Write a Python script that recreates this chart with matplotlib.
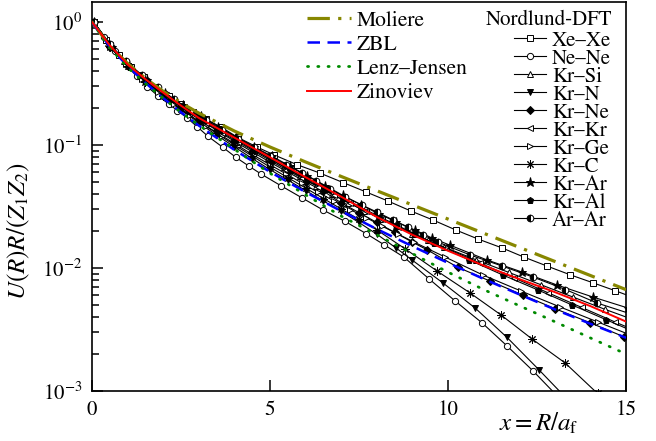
import numpy as np
import matplotlib
matplotlib.use('Agg')
import matplotlib.pyplot as plt
from matplotlib.ticker import LogLocator, NullLocator, FixedLocator, NullFormatter

plt.rcParams['font.family'] = ['STIXGeneral', 'DejaVu Serif']
plt.rcParams['mathtext.fontset'] = 'stix'

# ---------------- model screening functions -------------
model_x = [0, 0.5, 1, 1.5, 2, 2.5, 3, 4, 5, 6, 7, 8, 9, 10, 11, 12, 13, 14, 15]
moliere = [1.0, 0.6382, 0.4606, 0.3484, 0.2730, 0.2202, 0.1817, 0.1298, 0.0963, 0.07276,
           0.05549, 0.04248, 0.03256, 0.02499, 0.01918, 0.01473, 0.01131, 0.008688, 0.006672]
zbl = [1.0, 0.628, 0.4375, 0.3200, 0.2407, 0.1845, 0.1439, 0.0912, 0.06045, 0.04139,
       0.02903, 0.02073, 0.01502, 0.01101, 0.008156, 0.006104, 0.004609, 0.003517, 0.002708]
lenz_jensen = [1.0, 0.6166, 0.4266, 0.3162, 0.2399, 0.1841, 0.1452, 0.0923, 0.0589, 0.03936,
               0.02642, 0.01862, 0.01309, 0.00925, 0.00668, 0.00494, 0.00366, 0.00270, 0.00200]
zinoviev = [1.0, 0.6457, 0.4518, 0.3428, 0.2661, 0.2089, 0.1660, 0.1148, 0.0794, 0.0547,
            0.0380, 0.0260, 0.01862, 0.01380, 0.01047, 0.00813, 0.00637, 0.00490, 0.00367]

# ---------------- Nordlund DFT curves: x and log10(U R/(Z1 Z2)) -----
xexe_x = [0.05, 0.4, 0.75, 1.1, 1.45, 1.8, 2.15, 2.5, 2.85, 3.2, 3.62, 4.1, 4.63, 5.11, 5.76,
          6.4, 7.05, 7.7, 8.31, 8.96, 9.58, 10.22, 10.84, 11.52, 12.13, 12.78, 13.43, 14.07, 14.7, 15.35]
xexe_lg = [0.0, -0.15, -0.265, -0.365, -0.45, -0.525, -0.598, -0.665, -0.73, -0.79, -0.854, -0.939,
           -1.016, -1.08, -1.16, -1.228, -1.305, -1.382, -1.455, -1.537, -1.61, -1.691, -1.764,
           -1.837, -1.911, -1.984, -2.055, -2.12, -2.185, -2.255]

nene_x = [0.05, 0.35, 0.65, 0.95, 1.25, 1.55, 1.85, 2.15, 2.4, 2.67, 2.95, 3.26, 3.68, 4.04, 4.41,
          4.75, 5.3, 5.9, 6.5, 7.1, 7.7, 8.2, 8.76, 9.47, 10.2, 10.96, 11.66, 12.39, 13.1]
nene_lg = [0.0, -0.12, -0.235, -0.345, -0.44, -0.525, -0.6, -0.665, -0.72, -0.78, -0.85, -0.93,
           -1.02, -1.1, -1.172, -1.236, -1.33, -1.43, -1.53, -1.62, -1.72, -1.81, -1.911, -2.089,
           -2.268, -2.447, -2.634, -2.837, -3.05]

krsi_x = [0.05, 0.45, 0.9, 1.35, 1.8, 2.25, 2.7, 3.15, 3.6, 4.05, 4.5, 4.95, 5.4, 5.85, 6.3, 6.75,
          7.2, 7.65, 8.1, 8.55, 9.0, 9.45, 9.9, 10.8, 11.7, 12.6, 13.5, 14.4, 15.3]
krsi_lg = [0.0, -0.17, -0.315, -0.43, -0.53, -0.625, -0.715, -0.8, -0.88, -0.955, -1.03, -1.105,
           -1.18, -1.255, -1.33, -1.4, -1.47, -1.535, -1.6, -1.66, -1.72, -1.775, -1.83, -1.935,
           -2.035, -2.135, -2.235, -2.335, -2.43]

krn_x = [0.05, 0.5, 1.0, 1.5, 2.0, 2.5, 3.0, 3.5, 4.0, 4.5, 5.0, 5.5, 6.0, 6.5, 7.0, 7.5, 8.0,
         8.54, 8.99, 9.86, 10.76, 11.66, 12.56, 13.46]
krn_lg = [0.0, -0.2, -0.36, -0.49, -0.605, -0.715, -0.82, -0.92, -1.015, -1.11, -1.2, -1.285,
          -1.37, -1.455, -1.54, -1.63, -1.725, -1.837, -1.935, -2.122, -2.325, -2.565, -2.829, -3.1]

krne_x = [0.05, 0.5, 1.0, 1.5, 2.0, 2.5, 3.0, 3.5, 4.0, 4.5, 5.0, 5.5, 6.0, 6.5, 7.0, 7.5, 8.0,
          8.5, 9.0, 9.4, 10.28, 11.18, 12.1, 13.0, 13.99, 14.95, 15.9]
krne_lg = [0.0, -0.2, -0.355, -0.48, -0.59, -0.695, -0.79, -0.88, -0.97, -1.055, -1.14, -1.22,
           -1.3, -1.375, -1.47, -1.55, -1.63, -1.71, -1.79, -1.85, -1.995, -2.106, -2.22, -2.33,
           -2.445, -2.56, -2.67]

krkr_x = [0.05, 0.5, 0.95, 1.4, 1.85, 2.3, 2.75, 3.2, 3.65, 4.1, 4.55, 5.0, 5.45, 5.9, 6.35, 6.8,
          7.25, 7.7, 8.15, 8.6, 9.05, 9.5, 9.95, 10.9, 11.85, 12.8, 13.75, 14.7, 15.65]
krkr_lg = [0.0, -0.19, -0.335, -0.45, -0.55, -0.645, -0.735, -0.82, -0.9, -0.975, -1.05, -1.125,
           -1.2, -1.27, -1.34, -1.41, -1.475, -1.54, -1.605, -1.665, -1.725, -1.785, -1.84, -1.96,
           -2.08, -2.2, -2.32, -2.44, -2.555]

krge_x = [0.05, 0.5, 0.95, 1.4, 1.85, 2.3, 2.75, 3.2, 3.65, 4.1, 4.55, 5.0, 5.45, 5.9, 6.35, 6.8,
          7.25, 7.7, 8.15, 8.6, 9.05, 9.92, 10.98, 12.05, 13.15, 14.21, 15.3]
krge_lg = [0.0, -0.195, -0.345, -0.465, -0.57, -0.67, -0.76, -0.845, -0.925, -1.005, -1.085, -1.16,
           -1.235, -1.31, -1.385, -1.455, -1.525, -1.59, -1.66, -1.725, -1.79, -1.911, -2.057,
           -2.187, -2.317, -2.439, -2.565]

krc_x = [0.05, 0.5, 1.0, 1.5, 2.0, 2.5, 3.0, 3.5, 4.0, 4.5, 5.0, 5.5, 6.0, 6.5, 7.0, 7.5, 8.0,
         8.8, 9.69, 10.62, 11.49, 12.36, 13.29, 14.2]
krc_lg = [0.0, -0.2, -0.36, -0.485, -0.6, -0.705, -0.81, -0.905, -1.0, -1.09, -1.18, -1.265,
          -1.35, -1.435, -1.52, -1.605, -1.69, -1.845, -2.024, -2.203, -2.382, -2.577, -2.772, -3.02]

krar_x = [0.05, 0.55, 1.05, 1.55, 2.05, 2.55, 3.05, 3.55, 4.05, 4.55, 5.05, 5.55, 6.05, 6.55, 7.05,
          7.55, 8.05, 8.55, 9.07, 9.55, 10.06, 11.1, 12.08, 13.06, 14.07, 15.05]
krar_lg = [0.0, -0.2, -0.35, -0.47, -0.575, -0.675, -0.765, -0.85, -0.935, -1.015, -1.09, -1.17,
           -1.25, -1.33, -1.41, -1.485, -1.56, -1.625, -1.691, -1.756, -1.815, -1.935, -2.033,
           -2.138, -2.236, -2.325]

kral_x = [0.05, 0.55, 1.05, 1.55, 2.05, 2.55, 3.05, 3.55, 4.05, 4.55, 5.05, 5.55, 6.05, 6.55, 7.05,
          7.55, 8.05, 8.55, 9.05, 9.6, 10.6, 11.54, 12.53, 13.48, 14.44, 15.4]
kral_lg = [0.0, -0.2, -0.355, -0.475, -0.58, -0.68, -0.775, -0.865, -0.955, -1.04, -1.12, -1.2,
           -1.28, -1.355, -1.43, -1.505, -1.58, -1.65, -1.72, -1.8, -1.935, -2.057, -2.179, -2.3,
           -2.42, -2.54]

arar_x = [0.05, 0.5, 0.95, 1.4, 1.85, 2.3, 2.75, 3.2, 3.65, 4.1, 4.55, 5.0, 5.45, 5.9, 6.3, 6.69,
          7.11, 7.58, 8.0, 8.46, 8.88, 9.3, 9.72, 10.62, 11.52, 12.4, 13.3, 14.19, 15.1]
arar_lg = [0.0, -0.18, -0.32, -0.43, -0.53, -0.63, -0.72, -0.8, -0.875, -0.95, -1.02, -1.09, -1.16,
           -1.23, -1.29, -1.36, -1.423, -1.488, -1.545, -1.61, -1.67, -1.73, -1.79, -1.894, -1.984,
           -2.075, -2.175, -2.285, -2.37]

dft_series = [
    ('Xe\u2013Xe', xexe_x, xexe_lg, dict(marker='s', ms=4.2, mfc='white')),
    ('Ne\u2013Ne', nene_x, nene_lg, dict(marker='o', ms=4.5, mfc='white')),
    ('Kr\u2013Si', krsi_x, krsi_lg, dict(marker='^', ms=4.5, mfc='white')),
    ('Kr\u2013N', krn_x, krn_lg, dict(marker='v', ms=5, mfc='black')),
    ('Kr\u2013Ne', krne_x, krne_lg, dict(marker='D', ms=3.8, mfc='black')),
    ('Kr\u2013Kr', krkr_x, krkr_lg, dict(marker='<', ms=4.5, mfc='white')),
    ('Kr\u2013Ge', krge_x, krge_lg, dict(marker='>', ms=4.5, mfc='white')),
    ('Kr\u2013C', krc_x, krc_lg, dict(marker=(8, 2, 0), ms=6, mfc='black')),
    ('Kr\u2013Ar', krar_x, krar_lg, dict(marker='*', ms=6.5, mfc='black')),
    ('Kr\u2013Al', kral_x, kral_lg, dict(marker='p', ms=5, mfc='black')),
    ('Ar\u2013Ar', arar_x, arar_lg, dict(marker='o', ms=4.8, mfc='black', fillstyle='left',
                                         markerfacecoloralt='white')),
]

W, H = 656, 441
fig = plt.figure(figsize=(W / 100, H / 100), dpi=100)
ax = fig.add_axes([92 / W, 1 - 391 / H, (626 - 92) / W, (391 - 2) / H])

dft_handles = []
for label, xs, lg, style in dft_series:
    h, = ax.plot(xs, 10 ** np.array(lg), color='black', lw=0.8, mec='black', mew=0.7,
                 label=label, zorder=2, **style)
    dft_handles.append(h)

h_mol, = ax.plot(model_x, moliere, color='#878700', lw=2.3, ls=(0, (7.0, 2.6, 1.0, 2.6)),
                 label='Moliere', zorder=4)
h_zbl, = ax.plot(model_x, zbl, color='#0000ff', lw=1.8, ls=(0, (5, 3)), label='ZBL', zorder=4)
h_lj, = ax.plot(model_x, lenz_jensen, color='#008a00', lw=2.0, ls=(0, (0.4, 3.3)),
                dash_capstyle='round', label='Lenz\u2013Jensen', zorder=4)
h_zin, = ax.plot(model_x, zinoviev, color='#ff0000', lw=1.4, label='Zinoviev', zorder=5)

ax.set_yscale('log')
ax.set_xlim(0, 15)
ax.set_ylim(1e-3, 1.454)
ax.xaxis.set_major_locator(FixedLocator([0, 5, 10, 15]))
ax.xaxis.set_minor_locator(NullLocator())
ax.yaxis.set_major_locator(LogLocator(base=10, numticks=10))
ax.yaxis.set_minor_locator(LogLocator(base=10, subs=np.arange(2, 10), numticks=20))
ax.yaxis.set_minor_formatter(NullFormatter())
ax.tick_params(which='both', direction='in', top=False, right=False, labelsize=15, width=1.1)
ax.tick_params(which='major', length=8, pad=7)
ax.tick_params(which='minor', length=5)
for s in ax.spines.values():
    s.set_linewidth(1.2)

ax.set_ylabel(r'$U(R)R/(Z_1Z_2)$', fontsize=18)
ax.yaxis.set_label_coords(-0.112, 0.41)
fig.text(539 / W, 1 - 424 / H, r'$x = R/a_{\mathrm{f}}$', fontsize=18, ha='center', va='center')

leg1 = ax.legend(handles=[h_mol, h_zbl, h_lj, h_zin], loc='upper left',
                 bbox_to_anchor=(307 / W, 1 - 10.5 / H), bbox_transform=fig.transFigure,
                 frameon=False, fontsize=15.5, handlelength=2.05, handletextpad=0.25,
                 labelspacing=0.19, borderpad=0, borderaxespad=0)
ax.add_artist(leg1)
fig.text(549.5 / W, 1 - 20 / H, 'Nordlund-DFT', fontsize=15, ha='center', va='center')
leg2 = ax.legend(handles=dft_handles, loc='upper left',
                 bbox_to_anchor=(514 / W, 1 - 31 / H), bbox_transform=fig.transFigure,
                 frameon=False, fontsize=15, handlelength=1.54,
                 handletextpad=0.29, labelspacing=-0.085, borderpad=0, borderaxespad=0)

fig.savefig('out.png', dpi=100)
